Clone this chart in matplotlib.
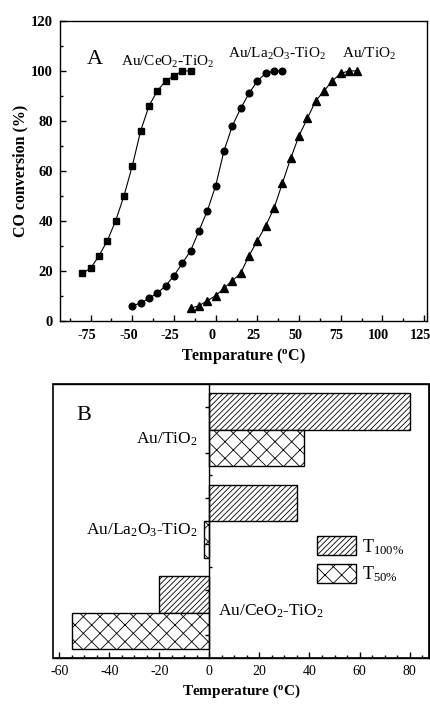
import matplotlib
matplotlib.use("Agg")
import matplotlib.pyplot as plt
import matplotlib.transforms as mtransforms
import numpy as np
from matplotlib.ticker import MultipleLocator, FixedLocator

plt.rcParams['font.family'] = ['Liberation Serif', 'DejaVu Serif']
plt.rcParams['mathtext.fontset'] = 'custom'
plt.rcParams['mathtext.default'] = 'regular'
plt.rcParams['axes.unicode_minus'] = False
plt.rcParams['hatch.linewidth'] = 0.6

# panel A: CO conversion vs temperature
T_ce = [-80, -75, -70, -65, -60, -55, -50, -45, -40, -35, -30, -25, -20, -15]
conv_ce = [19, 21, 26, 32, 40, 50, 62, 76, 86, 92, 96, 98, 100, 100]

T_la = [-50, -45, -40, -35, -30, -25, -20, -15, -10, -5, 0, 5, 10, 15, 20, 25, 30, 35, 40]
conv_la = [6, 7, 9, 11, 14, 18, 23, 28, 36, 44, 54, 68, 78, 85, 91, 96, 99, 100, 100]

T_ti = [-15, -10, -5, 0, 5, 10, 15, 20, 25, 30, 35, 40, 45, 50, 55, 60, 65, 70, 75, 80, 85]
conv_ti = [5, 6, 8, 10, 13, 16, 19, 26, 32, 38, 45, 55, 65, 74, 81, 88, 92, 96, 99, 100, 100]

# panel B: T100% and T50% per catalyst
catalysts = ['Au/CeO$_2$-TiO$_2$', 'Au/La$_2$O$_3$-TiO$_2$', 'Au/TiO$_2$']
t100 = [-20, 35, 80]
t50 = [-55, -2, 38]

fig = plt.figure(figsize=(4.3, 7.04), dpi=100)

# ---------- A ----------
ax1 = fig.add_axes([0.1395, 0.5445, 0.8528, 0.4257])
ax1.plot(T_ce, conv_ce, '-s', color='k', ms=4.5, lw=0.8)
ax1.plot(T_la, conv_la, '-o', color='k', ms=4.8, lw=0.8)
ax1.plot(T_ti, conv_ti, '-^', color='k', ms=5.2, lw=0.8)
ax1.set_xlim(-93.4, 126.6)
ax1.set_ylim(0, 120)
ax1.xaxis.set_major_locator(MultipleLocator(25))
ax1.xaxis.set_minor_locator(MultipleLocator(12.5))
ax1.yaxis.set_major_locator(MultipleLocator(20))
ax1.yaxis.set_minor_locator(MultipleLocator(10))
ax1.tick_params(which='both', direction='in', top=False, right=False, width=1)
ax1.tick_params(which='major', length=4, labelsize=10.5, pad=6)
ax1.tick_params(axis='x', which='major', labelsize=10.2)
ax1.tick_params(axis='y', which='major', pad=5)
ax1.tick_params(which='minor', length=2)
# labels sit a little left of their ticks, as in the original
shift = mtransforms.ScaledTranslation(-4 / 100, 0, fig.dpi_scale_trans)
for lab in ax1.get_xticklabels():
    lab.set_transform(lab.get_transform() + shift)
for lab in ax1.get_xticklabels() + ax1.get_yticklabels():
    lab.set_fontweight('bold')
for sp in ax1.spines.values():
    sp.set_linewidth(1)
ax1.set_xlabel('Temparature ($^{o}$C)', fontsize=11.5, fontweight='bold', labelpad=3)
ax1.set_ylabel('CO conversion (%)', fontsize=11.5, fontweight='bold', labelpad=2)

ax1.text(-72.4, 102.8, 'A', fontsize=16, ha='center', va='baseline')
ax1.text(-56.8, 102.1, catalysts[0], fontsize=11, ha='left', va='baseline')
ax1.text(7.4, 105.1, catalysts[1], fontsize=11, ha='left', va='baseline')
ax1.text(75.8, 105.1, catalysts[2], fontsize=11, ha='left', va='baseline')

# ---------- B ----------
ax2 = fig.add_axes([0.124, 0.0649, 0.8744, 0.3896])
y = np.arange(len(catalysts))
ax2.barh(y + 0.2, t100, height=0.4, color='white', edgecolor='k', lw=1,
         hatch='//////', label='T$_{100\\%}$')
ax2.barh(y - 0.2, t50, height=0.4, color='white', edgecolor='k', lw=1,
         hatch='xx', label='T$_{50\\%}$')
ax2.set_xlim(-62.4, 87.9)
ax2.set_ylim(-0.5, 2.5)

ax2.spines['left'].set_position(('data', 0))
ax2.patch.set_edgecolor('k')
ax2.patch.set_linewidth(1.2)
for sp in ax2.spines.values():
    sp.set_linewidth(1)

ax2.xaxis.set_major_locator(MultipleLocator(20))
ax2.xaxis.set_minor_locator(MultipleLocator(5))
ax2.tick_params(axis='x', which='both', direction='in', top=False, width=1)
ax2.tick_params(axis='x', which='major', length=4, labelsize=10, pad=5)
ax2.tick_params(axis='x', which='minor', length=2)

ax2.yaxis.set_major_locator(FixedLocator([-0.25, 0.25, 0.75, 1.25, 1.75, 2.25]))
ax2.yaxis.set_minor_locator(FixedLocator([0.5, 1.5]))
ax2.tick_params(axis='y', which='major', direction='out', length=3, width=1, labelleft=False)
ax2.tick_params(axis='y', which='minor', direction='in', length=2, width=1)

ax2.text(-50.2, 2.106, 'B', fontsize=16, ha='center', va='baseline')
ax2.text(-4.6, 1.851, catalysts[2], fontsize=12.5, ha='right', va='baseline')
ax2.text(-4.6, 0.848, catalysts[1], fontsize=12.5, ha='right', va='baseline')
ax2.text(3.4, -0.037, catalysts[0], fontsize=12.5, ha='left', va='baseline')

ax2.legend(loc='upper left', bbox_to_anchor=(0.70, 0.445), frameon=False,
           fontsize=13, handlelength=2.2, handleheight=1.25, labelspacing=0.4,
           handletextpad=0.3, borderpad=0, borderaxespad=0)
ax2.set_xlabel('Temperature ($^{o}$C)', fontsize=11, fontweight='bold', labelpad=3)

fig.savefig('out.png', dpi=100)
